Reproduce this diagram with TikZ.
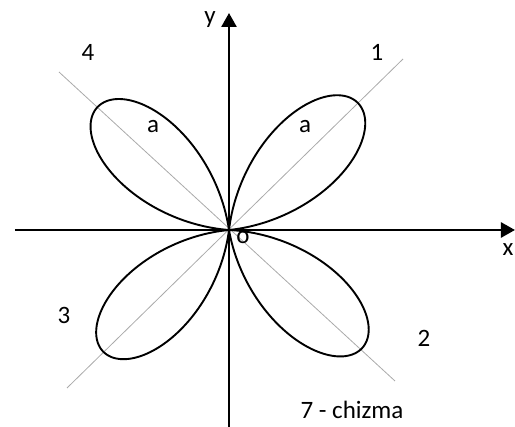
\documentclass[tikz,border=0pt]{standalone}
\usepackage{fontspec}
\setmainfont{Carlito}
\usetikzlibrary{arrows.meta}
\begin{document}
\begin{tikzpicture}[x=1pt,y=1pt,
  axis/.style={line width=2.6pt,-{Triangle[length=14pt,width=15pt]}},
  diag/.style={line width=0.8pt,draw={rgb,255:red,170;green,170;blue,170}},
  petal/.style={line width=1.9pt,line join=round},
  lbl/.style={font=\fontsize{25}{29}\selectfont,inner sep=0pt}]
\useasboundingbox (-229,-197) rectangle (286,230);
\coordinate (O) at (0,0);
% diagonals
\coordinate (d1a) at (-162,-158); \coordinate (d1b) at (174,171);
\coordinate (d2a) at (-170,158); \coordinate (d2b) at (166,-151);
\draw[diag] (d1a) -- (d1b);
\draw[diag] (d2a) -- (d2b);
% petals
\foreach \ang/\R in {44.6/181, 137/180, 224/175, 318.6/178}{
  \draw[petal,rotate=\ang] plot[domain=-45:45,samples=120,smooth]
    ({\R*cos(2*\x)*cos(\x)},{0.8*\R*cos(2*\x)*sin(\x)}) -- cycle;
}
% axes
\coordinate (xs) at (-214,0); \coordinate (xe) at (286,0);
\coordinate (ys) at (0,-197); \coordinate (ye) at (0,217);
\draw[axis] (xs) -- (xe);
\draw[axis] (ys) -- (ye);
% labels
\node[lbl] (ly) at (-19,210) {y};
\node[lbl] (lx) at (279,-20) {x};
\node[lbl] (lo) at (14,-8) {o};
\node[lbl] (n1) at (148,178) {1};
\node[lbl] (n4) at (-141,178) {4};
\node[lbl] (n3) at (-165,-85) {3};
\node[lbl] (n2) at (195,-108) {2};
\node[lbl] (a1) at (76,103) {a};
\node[lbl] (a4) at (-76,103) {a};
\node[lbl] (cap) at (123,-180) {7 - chizma};
\end{tikzpicture}
\end{document}
